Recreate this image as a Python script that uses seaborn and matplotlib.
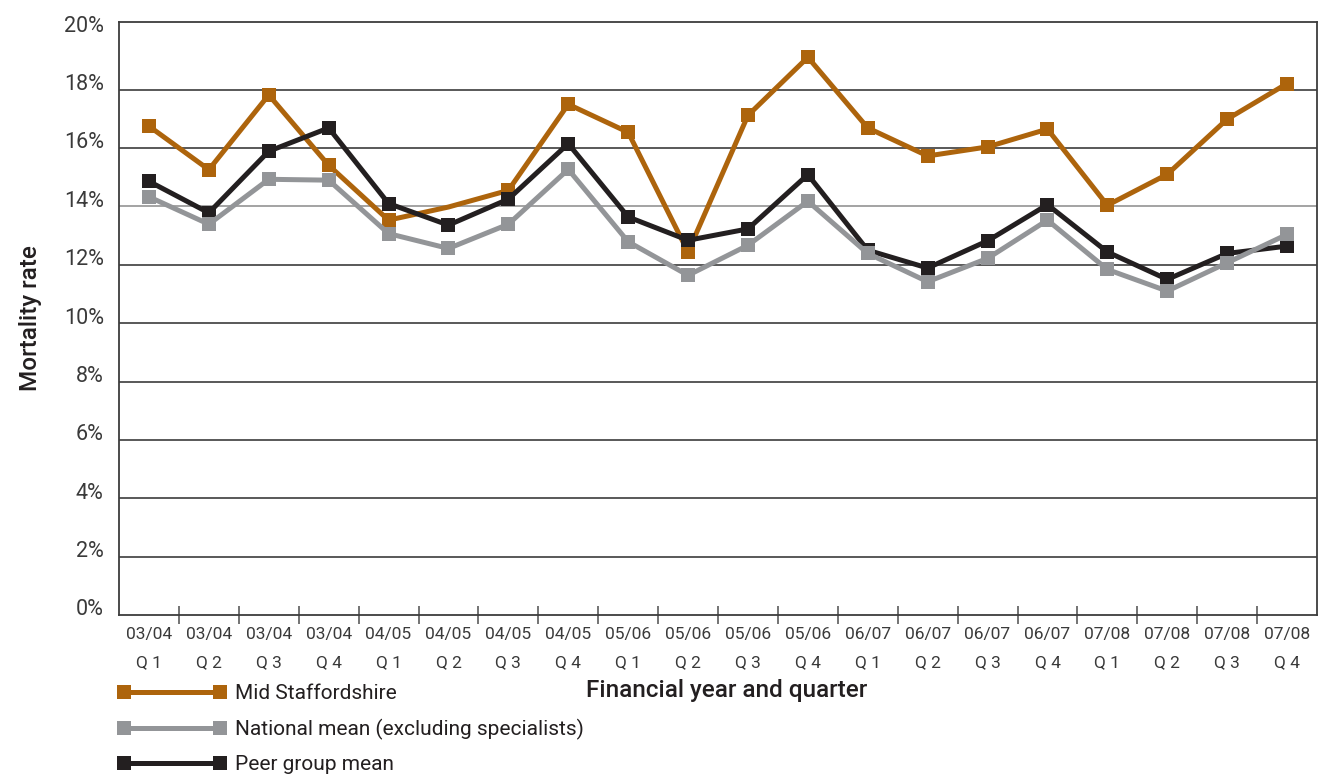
import matplotlib
matplotlib.use("Agg")
import matplotlib.pyplot as plt
import matplotlib.transforms as mtransforms
from matplotlib.lines import Line2D
from matplotlib.ticker import FixedLocator, FixedFormatter, NullFormatter
import seaborn as sns

# Quarterly mortality rates (%), financial years 2003/04 to 2007/08
years = ["03/04"] * 4 + ["04/05"] * 4 + ["05/06"] * 4 + ["06/07"] * 4 + ["07/08"] * 4
quarters = ["Q 1", "Q 2", "Q 3", "Q 4"] * 5
mid_staffs = [16.75, 15.26, 17.82, 15.41, 13.53, 13.98, 14.55, 17.50, 16.54, 12.44,
              17.12, 19.11, 16.69, 15.73, 16.04, 16.65, 14.04, 15.10, 16.99, 18.21]
national = [14.33, 13.39, 14.93, 14.90, 13.07, 12.56, 13.39, 15.27, 12.79, 11.64,
            12.67, 14.18, 12.39, 11.42, 12.22, 13.53, 11.84, 11.10, 12.07, 13.04]
peer = [14.86, 13.78, 15.89, 16.69, 14.10, 13.36, 14.25, 16.15, 13.64, 12.84,
        13.23, 15.09, 12.50, 11.89, 12.82, 14.06, 12.44, 11.50, 12.39, 12.64]
series_names = ["Mid Staffordshire", "National mean (excluding specialists)", "Peer group mean"]
y_ticks = [0, 2, 4, 6, 8, 10, 12, 14, 16, 18, 20]

ORANGE = "#ad640c"
GREY = "#939598"
BLACK = "#231f20"
TEXT = "#3a3a3a"

sns.set_theme(style="white")
plt.rcParams["font.family"] = ["Roboto", "DejaVu Sans"]

fig = plt.figure(figsize=(13.18, 7.76), dpi=100)
ax = fig.add_axes([119 / 1318, 1 - 615 / 776, (1317 - 119) / 1318, (615 - 21.7) / 776])

x = list(range(len(years)))
lw = 3.6
ms = 10

# Mid Staffordshire has no marker drawn for 04/05 Q2
ms_marks = [i for i in x if i != 5]
sns.lineplot(x=x, y=mid_staffs, ax=ax, color=ORANGE, lw=lw, marker="s", ms=ms,
             mew=0, markevery=ms_marks, zorder=3, legend=False)
sns.lineplot(x=x, y=peer, ax=ax, color=BLACK, lw=lw, marker="s", ms=ms,
             mew=0, zorder=4, legend=False)
sns.lineplot(x=x, y=national, ax=ax, color=GREY, lw=lw, marker="s", ms=ms,
             mew=0, zorder=5, legend=False)

ax.set_xlim(-0.5, len(years) - 0.5)
ax.set_ylim(0, 20.33)

# Horizontal gridlines
for v in y_ticks[1:-1]:
    ax.axhline(v, color="#8a8a8a" if v == 14 else "#2b2b2b", lw=1.1, zorder=1)

# Y ticks: labels sit just above their gridline
ax.set_yticks(y_ticks)
ax.set_yticklabels([f"{v}%" for v in y_ticks])
ax.tick_params(axis="y", length=0, pad=11, labelsize=15.5, labelcolor=TEXT)
offset = mtransforms.ScaledTranslation(0, 7.6 / 100, fig.dpi_scale_trans)
for lab in ax.get_yticklabels():
    lab.set_transform(lab.get_transform() + offset)

# X ticks: marks between quarters, labels centred on quarters
ax.xaxis.set_major_locator(FixedLocator([i + 0.5 for i in x[:-1]]))
ax.xaxis.set_major_formatter(NullFormatter())
ax.xaxis.set_minor_locator(FixedLocator(x))
ax.xaxis.set_minor_formatter(FixedFormatter([f"{y}\n{q}" for y, q in zip(years, quarters)]))
ax.tick_params(axis="x", which="major", direction="inout", length=13, width=1.1,
               color="#4d4d4d", bottom=True)
ax.tick_params(axis="x", which="minor", length=0, pad=9, labelsize=12.5,
               labelcolor=TEXT, bottom=True)
for lab in ax.xaxis.get_minorticklabels():
    lab.set_linespacing(2.05)

for side in ["left", "right", "top", "bottom"]:
    ax.spines[side].set_visible(True)
    ax.spines[side].set_color("#3d3d3d")
    ax.spines[side].set_linewidth(1.3)

ax.set_xlabel("Financial year and quarter", fontsize=17.5, fontweight="medium",
              color=BLACK)
ax.xaxis.set_label_coords(0.5075, -0.128)
ax.xaxis.label.set_va("center")
ax.set_ylabel("Mortality rate", fontsize=17.5, fontweight="medium", color=BLACK,
              labelpad=16)

handles = [Line2D([], [], color=c, lw=lw, marker="s", ms=ms, mew=0)
           for c in (ORANGE, GREY, BLACK)]
fig.legend(handles, series_names, loc="upper left",
           bbox_to_anchor=(118 / 1318, 1 - 684 / 776), frameon=False,
           fontsize=15, handlelength=5.18, handletextpad=0.46, labelspacing=0.74,
           borderpad=0, borderaxespad=0, numpoints=2, labelcolor=BLACK)

fig.savefig("out.png", dpi=100)
